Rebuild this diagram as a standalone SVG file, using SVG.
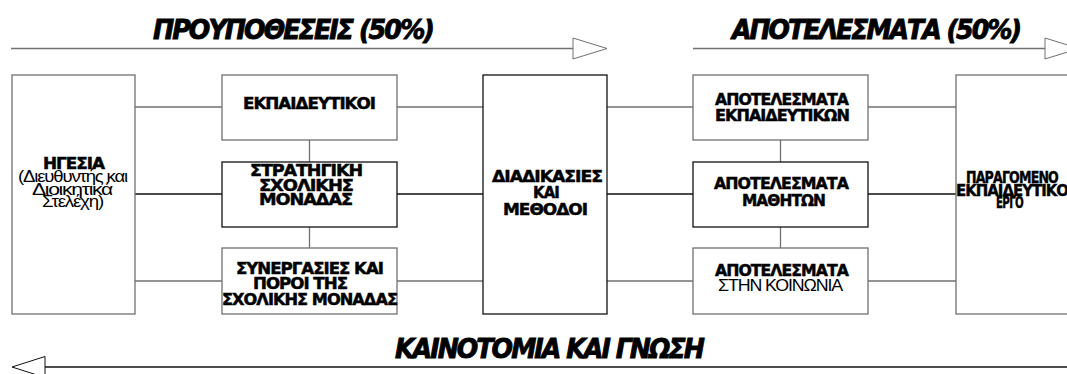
<svg xmlns="http://www.w3.org/2000/svg" width="1067" height="374" viewBox="0 0 1067 374">
<style>
.bg{fill:#fff}
.box{fill:#fff;stroke:#707070;stroke-width:1.3}
.boxd{fill:#fff;stroke:#111;stroke-width:1.3}
.c{stroke:#707070;stroke-width:1.3;fill:none}
.cd{stroke:#111;stroke-width:1.3;fill:none}
.ah{fill:#fff;stroke:#707070;stroke-width:1}
.ahd{fill:#fff;stroke:#111;stroke-width:1}
text{fill:#000}
.t{font-family:"DejaVu Sans","Liberation Sans",sans-serif;font-size:16.5px;font-weight:bold;letter-spacing:-1px;stroke:#000;stroke-width:0.5}
.n{font-family:"Liberation Sans",Arial,sans-serif;font-size:16px;font-weight:normal;letter-spacing:-1px}
.s{font-family:"DejaVu Sans","Liberation Sans",sans-serif;font-size:15px;font-weight:bold;letter-spacing:-1px;stroke:#000;stroke-width:0.4}
.h{font-family:"DejaVu Sans","Liberation Sans",sans-serif;font-size:26px;font-weight:bold;font-style:italic;letter-spacing:-2px;stroke:#000;stroke-width:0.9}
</style>
<rect class="bg" x="0" y="0" width="1067" height="374"/>

<g id="connectors">
  <line class="c" x1="11" y1="48.5" x2="573" y2="48.5"/>
  <polygon class="ah" points="573,38 607,48.5 573,59"/>
  <line class="c" x1="693" y1="48.5" x2="1045" y2="48.5"/>
  <polygon class="ah" points="1045,38 1079,48.5 1045,59"/>
  <line class="cd" x1="45" y1="367" x2="1067" y2="367"/>
  <polygon class="ahd" points="45,356.5 12,367 45,377.5"/>
  <line class="c" x1="135" y1="107" x2="222" y2="107"/>
  <line class="cd" x1="135" y1="194" x2="222" y2="194"/>
  <line class="c" x1="135" y1="281" x2="222" y2="281"/>
  <line class="c" x1="397" y1="107" x2="483" y2="107"/>
  <line class="cd" x1="397" y1="194" x2="483" y2="194"/>
  <line class="c" x1="397" y1="281" x2="483" y2="281"/>
  <line class="c" x1="309.5" y1="140" x2="309.5" y2="162"/>
  <line class="c" x1="309.5" y1="227" x2="309.5" y2="248"/>
  <line class="c" x1="607" y1="107" x2="693" y2="107"/>
  <line class="cd" x1="607" y1="194" x2="693" y2="194"/>
  <line class="c" x1="607" y1="281" x2="693" y2="281"/>
  <line class="c" x1="868" y1="107" x2="956" y2="107"/>
  <line class="cd" x1="868" y1="194" x2="956" y2="194"/>
  <line class="c" x1="868" y1="281" x2="956" y2="281"/>
  <line class="c" x1="780.5" y1="140" x2="780.5" y2="162"/>
  <line class="c" x1="780.5" y1="227" x2="780.5" y2="248"/>
</g>

<g id="titles">
  <text class="h" x="153" y="39" textLength="280" lengthAdjust="spacingAndGlyphs">ΠΡΟΥΠΟΘΕΣΕΙΣ (50%)</text>
  <text class="h" x="732" y="39" textLength="288" lengthAdjust="spacingAndGlyphs">ΑΠΟΤΕΛΕΣΜΑΤΑ (50%)</text>
  <text class="h" x="395" y="358" textLength="308" lengthAdjust="spacingAndGlyphs">ΚΑΙΝΟΤΟΜΙΑ ΚΑΙ ΓΝΩΣΗ</text>
</g>

<g id="node-igesia">
  <rect class="box" x="12" y="75" width="123" height="239"/>
  <text class="t" x="43" y="169" textLength="61" lengthAdjust="spacingAndGlyphs">ΗΓΕΣΙΑ</text>
  <text class="n" x="18" y="182" textLength="109" lengthAdjust="spacingAndGlyphs">(Διευθυντής και</text>
  <text class="n" x="32" y="194.5" textLength="80" lengthAdjust="spacingAndGlyphs">Διοικητικά</text>
  <text class="n" x="42" y="207" textLength="61" lengthAdjust="spacingAndGlyphs">Στελέχη)</text>
</g>

<g id="node-ekpaideutikoi">
  <rect class="box" x="222" y="75" width="175" height="65"/>
  <text class="t" x="243" y="109" textLength="132" lengthAdjust="spacingAndGlyphs">ΕΚΠΑΙΔΕΥΤΙΚΟΙ</text>
</g>

<g id="node-stratigiki">
  <rect class="boxd" x="222" y="162" width="175" height="65"/>
  <text class="t" x="250" y="176" textLength="112" lengthAdjust="spacingAndGlyphs">ΣΤΡΑΤΗΓΙΚΗ</text>
  <text class="t" x="259" y="190.5" textLength="94" lengthAdjust="spacingAndGlyphs">ΣΧΟΛΙΚΗΣ</text>
  <text class="t" x="259" y="205" textLength="93" lengthAdjust="spacingAndGlyphs">ΜΟΝΑΔΑΣ</text>
</g>

<g id="node-synergasies">
  <rect class="box" x="222" y="248" width="175" height="66"/>
  <text class="t" x="236" y="274" textLength="147" lengthAdjust="spacingAndGlyphs">ΣΥΝΕΡΓΑΣΙΕΣ ΚΑΙ</text>
  <text class="t" x="253" y="289" textLength="94" lengthAdjust="spacingAndGlyphs">ΠΟΡΟΙ ΤΗΣ</text>
  <text class="t" x="222" y="305" textLength="175" lengthAdjust="spacingAndGlyphs">ΣΧΟΛΙΚΗΣ ΜΟΝΑΔΑΣ</text>
</g>

<g id="node-diadikasies">
  <rect class="boxd" x="483" y="75" width="124" height="239"/>
  <text class="t" x="492" y="182" textLength="110" lengthAdjust="spacingAndGlyphs">ΔΙΑΔΙΚΑΣΙΕΣ</text>
  <text class="t" x="533" y="198" textLength="26" lengthAdjust="spacingAndGlyphs">ΚΑΙ</text>
  <text class="t" x="503" y="215" textLength="84" lengthAdjust="spacingAndGlyphs">ΜΕΘΟΔΟΙ</text>
</g>

<g id="node-apot-ekp">
  <rect class="box" x="693" y="75" width="175" height="65"/>
  <text class="t" x="715" y="105" textLength="133" lengthAdjust="spacingAndGlyphs">ΑΠΟΤΕΛΕΣΜΑΤΑ</text>
  <text class="t" x="715" y="121" textLength="134" lengthAdjust="spacingAndGlyphs">ΕΚΠΑΙΔΕΥΤΙΚΩΝ</text>
</g>

<g id="node-apot-math">
  <rect class="boxd" x="693" y="162" width="175" height="65"/>
  <text class="t" x="714" y="189" textLength="134" lengthAdjust="spacingAndGlyphs">ΑΠΟΤΕΛΕΣΜΑΤΑ</text>
  <text class="t" x="742" y="206" textLength="83" lengthAdjust="spacingAndGlyphs">ΜΑΘΗΤΩΝ</text>
</g>

<g id="node-apot-koin">
  <rect class="box" x="693" y="248" width="175" height="66"/>
  <text class="t" x="715" y="276" textLength="133" lengthAdjust="spacingAndGlyphs">ΑΠΟΤΕΛΕΣΜΑΤΑ</text>
  <text class="n" x="718" y="291" textLength="124" lengthAdjust="spacingAndGlyphs">ΣΤΗΝ ΚΟΙΝΩΝΙΑ</text>
</g>

<g id="node-ergo">
  <rect class="box" x="956" y="75" width="130" height="239"/>
  <text class="s" x="966" y="183" textLength="92" lengthAdjust="spacingAndGlyphs">ΠΑΡΑΓΟΜΕΝΟ</text>
  <text class="s" x="956" y="195.5" textLength="112" lengthAdjust="spacingAndGlyphs">ΕΚΠΑΙΔΕΥΤΙΚΟ</text>
  <text class="s" x="996" y="207.5" textLength="27" lengthAdjust="spacingAndGlyphs">ΕΡΓΟ</text>
</g>
</svg>
